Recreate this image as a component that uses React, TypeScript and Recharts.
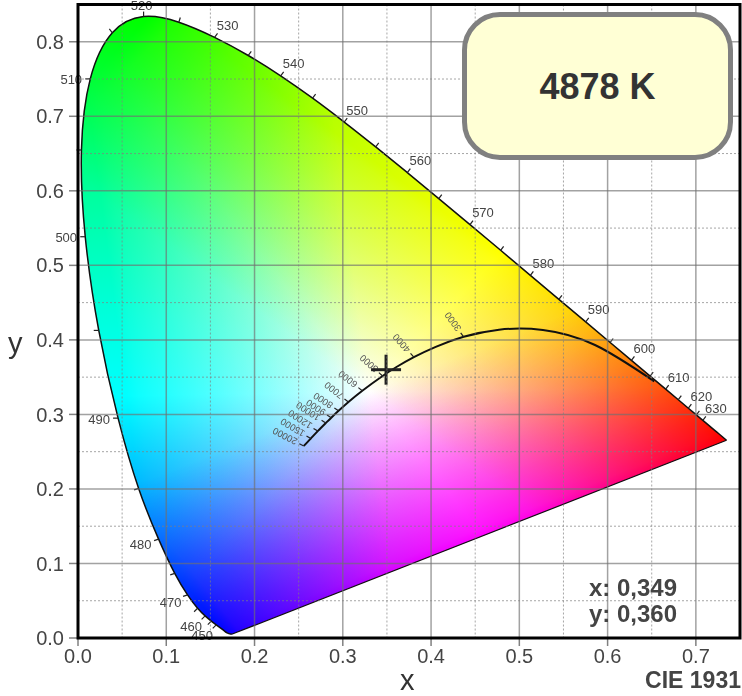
import { ScatterChart, Scatter, XAxis, YAxis, CartesianGrid, ReferenceArea, Curve } from "recharts";

// spectral locus, wavelength in nm with CIE 1931 x/y
const locusNm = [380, 430, 440, 450, 455, 460, 465, 470, 475, 480, 485, 490, 495, 500, 505, 510, 515, 520, 525, 530, 535, 540, 545, 550, 555, 560, 565, 570, 575, 580, 585, 590, 595, 600, 605, 610, 615, 620, 625, 630, 640, 650, 700];
const locusX = [0.1741, 0.1689, 0.1644, 0.1566, 0.151, 0.144, 0.1355, 0.1241, 0.1096, 0.0913, 0.0687, 0.0454, 0.0235, 0.0082, 0.0039, 0.0139, 0.0389, 0.0743, 0.1142, 0.1547, 0.1929, 0.2296, 0.2658, 0.3016, 0.3373, 0.3731, 0.4087, 0.4441, 0.4788, 0.5125, 0.5448, 0.5752, 0.6029, 0.627, 0.6482, 0.6658, 0.6801, 0.6915, 0.7006, 0.7079, 0.719, 0.726, 0.7347];
const locusY = [0.005, 0.0069, 0.0109, 0.0177, 0.0227, 0.0297, 0.0399, 0.0578, 0.0868, 0.1327, 0.2007, 0.295, 0.4127, 0.5384, 0.6548, 0.7502, 0.812, 0.8338, 0.8262, 0.8059, 0.7816, 0.7543, 0.7243, 0.6923, 0.6589, 0.6245, 0.5896, 0.5547, 0.5202, 0.4866, 0.4544, 0.4242, 0.3965, 0.3725, 0.3514, 0.334, 0.3197, 0.3083, 0.2993, 0.292, 0.2809, 0.274, 0.2653];
const labelledNm = [450, 460, 470, 480, 490, 500, 510, 520, 530, 540, 550, 560, 570, 580, 590, 600, 610, 620, 630];

// planckian locus
const planckT = [1000, 1500, 2000, 2500, 3000, 3500, 4000, 4500, 5000, 6000, 7000, 8000, 9000, 10000, 12000, 15000, 20000];
const planckX = [0.6528, 0.5857, 0.5267, 0.477, 0.4369, 0.4053, 0.3805, 0.3608, 0.3451, 0.3221, 0.3064, 0.2952, 0.2869, 0.2807, 0.2716, 0.2637, 0.2558];
const planckY = [0.3444, 0.3931, 0.4133, 0.4137, 0.4041, 0.3907, 0.3768, 0.3636, 0.3516, 0.3318, 0.3166, 0.3048, 0.2956, 0.2884, 0.2776, 0.2676, 0.2577];
const labelledT = [3000, 4000, 5000, 6000, 7000, 8000, 9000, 10000, 12000, 15000, 20000];

const measured = [{ x: 0.349, y: 0.36 }];

const xTicks = [0, 0.1, 0.2, 0.3, 0.4, 0.5, 0.6, 0.7];
const yTicks = [0, 0.1, 0.2, 0.3, 0.4, 0.5, 0.6, 0.7, 0.8];
const xMinor = [0.05, 0.15, 0.25, 0.35, 0.45, 0.55, 0.65];
const yMinor = [0.05, 0.15, 0.25, 0.35, 0.45, 0.55, 0.65, 0.75];

const locus = locusNm.map((nm, i) => ({ nm, x: locusX[i], y: locusY[i] }));
const purpleLine = [locus[0], locus[locus.length - 1]];
const locusLabels = locus.filter((p) => labelledNm.includes(p.nm));
const planck = planckT.map((t, i) => ({ t, x: planckX[i], y: planckY[i] }));
const planckLabels = planck.filter((p) => labelledT.includes(p.t));

const FONT = "'Liberation Sans', Arial, sans-serif";

// colour field anchors in page pixels: primaries, white, and where the mixes saturate
type Pt = number[];
const G: Pt = [148, 19];
const B: Pt = [228, 638];
const R: Pt = [726, 440];
const W: Pt = [369, 392];
const C: Pt = [170, 395];
const Y: Pt = [490, 265];
const M: Pt = [490, 545];

function foot(p: Pt, a: Pt, b: Pt): Pt {
  const dx = b[0] - a[0];
  const dy = b[1] - a[1];
  const t = ((p[0] - a[0]) * dx + (p[1] - a[1]) * dy) / (dx * dx + dy * dy);
  return [a[0] + t * dx, a[1] + t * dy];
}

// id, channel, ramp start, ramp end, ramp curve
const ramps: [string, number, Pt, Pt, number][] = [
  ["r1", 0, G, foot(G, Y, W), 0.45],
  ["r2", 0, B, foot(B, M, W), 0.38],
  ["r3", 0, foot(W, [78, 19], [158, 638]), W, 0.75],
  ["g1", 1, R, foot(R, Y, W), 0.5],
  ["g2", 1, B, foot(B, C, W), 0.72],
  ["g3", 1, foot(W, R, B), W, 0.5],
  ["b1", 2, G, foot(G, C, W), 0.62],
  ["b2", 2, R, foot(R, M, W), 0.5],
  ["b3", 2, foot(W, [158, 4], [736, 425]), W, 0.6],
];
const stops = [0, 0.05, 0.1, 0.2, 0.3, 0.45, 0.6, 0.8, 1];

function stopColor(channel: number, level: number) {
  const v = Math.round(level * 255);
  const c = [255, 255, 255];
  c[channel] = v;
  return `rgb(${c.join(",")})`;
}

// where a wavelength label sits relative to its point on the locus
function labelOffset(nm: number) {
  if (nm >= 530) return [13, -12];
  if (nm === 520) return [-2, -11];
  if (nm >= 490) return [-19, 1];
  if (nm === 480) return [-18, 5];
  if (nm === 470) return [-17, 8];
  return [-14, 11];
}

function tickDir(nm: number) {
  if (nm >= 530) return [0.6, -0.8];
  if (nm >= 525) return [0.3, -0.95];
  if (nm >= 520) return [0, -1];
  if (nm >= 515) return [-0.6, -0.8];
  if (nm >= 490) return [-1, 0];
  if (nm >= 470) return [-0.9, 0.3];
  return [-0.7, 0.7];
}

function planckAngle(t: number) {
  if (t <= 3000) return 234;
  if (t <= 4000) return 228;
  if (t <= 5000) return 222;
  if (t <= 7000) return 218;
  if (t <= 12000) return 213;
  if (t <= 15000) return 211;
  return 207;
}

const Nothing = () => <g />;

const LocusTick = ({ cx, cy, payload }: any) => {
  if (payload.nm < 450 || payload.nm > 635) return <g />;
  const [dx, dy] = tickDir(payload.nm);
  return <line x1={cx} y1={cy} x2={cx + dx * 5} y2={cy + dy * 5} stroke="#222" strokeWidth={1.2} />;
};

const LocusLabel = ({ cx, cy, payload }: any) => {
  const [dx, dy] = labelOffset(payload.nm);
  return (
    <text x={cx + dx} y={cy + dy} textAnchor="middle" dominantBaseline="central" fontSize={13} fontFamily={FONT} fill="#444">
      {payload.nm}
    </text>
  );
};

const PlanckLabel = ({ cx, cy, payload }: any) => (
  <g transform={`rotate(${planckAngle(payload.t)} ${cx} ${cy})`}>
    <line x1={cx} y1={cy} x2={cx + 5} y2={cy} stroke="#222" strokeWidth={1.2} />
    <text x={cx + 8} y={cy} dominantBaseline="central" fontSize={9.5} fontFamily={FONT} fill="#555">
      {payload.t}
    </text>
  </g>
);

const Cross = ({ cx, cy }: any) => (
  <g stroke="#222" strokeWidth={3}>
    <line x1={cx - 15} y1={cy} x2={cx + 15} y2={cy} />
    <line x1={cx} y1={cy - 15} x2={cx} y2={cy + 15} />
  </g>
);

const area = (fill: string, blend?: boolean) => (p: any) => (
  <Curve type="natural" points={p.points} fill={fill} stroke="none" style={blend ? { mixBlendMode: "multiply" } : undefined} />
);

const overlay = { position: "absolute", fontFamily: FONT, whiteSpace: "nowrap" } as const;

export default function App() {
  return (
    <div style={{ position: "absolute", left: 0, top: 0, width: 742, height: 696, background: "#fff", overflow: "hidden" }}>
      <ScatterChart width={742} height={696} margin={{ top: 4.5, right: 2, bottom: 0, left: 0 }}>
        <defs>
          {ramps.map(([id, channel, from, to, power]) => (
            <linearGradient key={id} id={id} gradientUnits="userSpaceOnUse" x1={from[0]} y1={from[1]} x2={to[0]} y2={to[1]}>
              {stops.map((s) => (
                <stop key={s} offset={s} stopColor={stopColor(channel, Math.pow(s, power))} />
              ))}
            </linearGradient>
          ))}
        </defs>
        <XAxis
          type="number"
          dataKey="x"
          domain={[0, 0.75]}
          ticks={xTicks}
          tickFormatter={(v: number) => v.toFixed(1)}
          height={58}
          axisLine={false}
          tickSize={8}
          tickMargin={3}
          tickLine={{ stroke: "#808080", strokeWidth: 1.5 }}
          tick={{ fontSize: 20, fontFamily: FONT, fill: "#444" }}
          interval={0}
        />
        <YAxis
          type="number"
          dataKey="y"
          domain={[0, 0.85]}
          ticks={yTicks}
          tickFormatter={(v: number) => v.toFixed(1)}
          width={78}
          axisLine={false}
          tickSize={9}
          tickMargin={5}
          tickLine={{ stroke: "#808080", strokeWidth: 1.5 }}
          tick={{ fontSize: 20, fontFamily: FONT, fill: "#444" }}
          interval={0}
        />
        <Scatter data={locus} isAnimationActive={false} shape={Nothing} line={area("#fff")} />
        {ramps.map(([id]) => (
          <Scatter key={id} data={locus} isAnimationActive={false} shape={Nothing} line={area(`url(#${id})`, true)} />
        ))}
        <CartesianGrid zIndex={700} verticalValues={xTicks} horizontalValues={yTicks} stroke="#707070" strokeOpacity={0.65} strokeWidth={1.5} />
        <CartesianGrid zIndex={700} verticalValues={xMinor} horizontalValues={yMinor} stroke="#808080" strokeOpacity={0.7} strokeDasharray="2 2" />
        <Scatter data={purpleLine} isAnimationActive={false} shape={Nothing} line={{ stroke: "#111", strokeWidth: 1.2 }} />
        <Scatter data={locus} isAnimationActive={false} shape={LocusTick} lineJointType="natural" line={{ stroke: "#111", strokeWidth: 1.5 }} />
        <Scatter data={locusLabels} isAnimationActive={false} shape={LocusLabel} />
        <Scatter data={planck} isAnimationActive={false} shape={Nothing} lineJointType="natural" line={{ stroke: "#111", strokeWidth: 2 }} />
        <Scatter data={planckLabels} isAnimationActive={false} shape={PlanckLabel} />
        <Scatter data={measured} isAnimationActive={false} shape={Cross} />
        <ReferenceArea x1={0} x2={0.75} y1={0} y2={0.85} fill="none" stroke="#000" strokeWidth={3} zIndex={800} />
      </ScatterChart>

      <div style={{ ...overlay, left: 462, top: 12, width: 271, height: 148, boxSizing: "border-box", border: "5px solid #808080", borderRadius: 38, background: "#ffffd5", color: "#333", fontWeight: 700, fontSize: 36, paddingTop: 2, display: "flex", alignItems: "center", justifyContent: "center" }}>
        4878 K
      </div>
      <div style={{ ...overlay, left: 589, top: 575, fontWeight: 700, fontSize: 24, lineHeight: "26px", color: "#444" }}>
        x: 0,349
        <br />
        y: 0,360
      </div>
      <div style={{ ...overlay, right: 1, top: 667, fontWeight: 700, fontSize: 23, lineHeight: "26px", color: "#444" }}>CIE 1931</div>
      <div style={{ ...overlay, left: 400, top: 664, fontSize: 29, lineHeight: "32px", color: "#333" }}>x</div>
      <div style={{ ...overlay, left: 8, top: 327, fontSize: 29, lineHeight: "32px", color: "#333" }}>y</div>
    </div>
  );
}
